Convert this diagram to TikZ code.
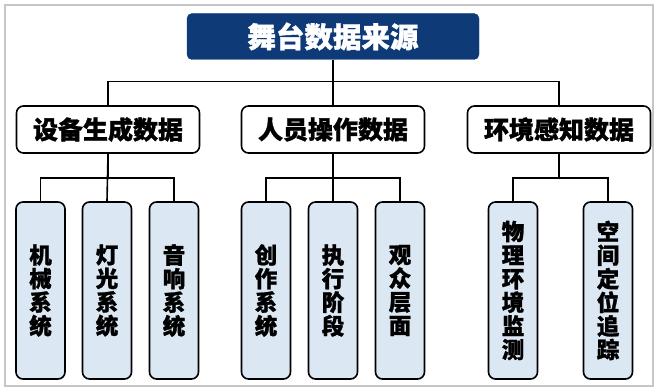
\documentclass[tikz,border=0pt]{standalone}
\usepackage{fontspec}
\setmainfont{Noto Sans CJK SC}[BoldFeatures={FakeBold=1.2}]
\definecolor{navy}{HTML}{0E3B78}
\definecolor{leafblue}{HTML}{DCE7F4}
\begin{document}
\begin{tikzpicture}[
  x=1pt, y=-1pt,
  root/.style={draw=navy, fill=navy, rounded corners=5pt, minimum width=292pt, minimum height=46pt,
               text=white, font=\fontsize{28.5}{30}\selectfont\bfseries},
  cat/.style={draw, line width=1.6pt, rounded corners=7pt, fill=white, minimum width=183pt,
              minimum height=47pt, font=\fontsize{25}{27}\selectfont\bfseries},
  leaf/.style={draw, line width=1.6pt, rounded corners=7pt, fill=leafblue, minimum width=49pt,
               minimum height=177pt, align=center, inner sep=0pt, font=\fontsize{22.5}{23.6}\selectfont\bfseries},
  link/.style={line width=1.6pt}
]
  \useasboundingbox (0,0) rectangle (657,390);
  \draw[gray!45, line width=1.2pt] (5,5) rectangle (653,386);

  %-- Racine
  \node[root] (src) at (333, 36.5)  {舞台数据来源};

  %-- Catégories
  \node[cat]  (dev) at (108, 129.5) {设备生成数据};
  \node[cat]  (ops) at (333, 129.5) {人员操作数据};
  \node[cat]  (env) at (559, 129.5) {环境感知数据};

  %-- Feuilles
  \node[leaf] (mech)  at (40.5, 290.5) {机\\械\\系\\统};
  \node[leaf] (light) at (107,  290.5) {灯\\光\\系\\统};
  \node[leaf] (sound) at (174,  290.5) {音\\响\\系\\统};
  \node[leaf] (crea)  at (266,  290.5) {创\\作\\系\\统};
  \node[leaf] (exec)  at (333,  290.5) {执\\行\\阶\\段};
  \node[leaf] (aud)   at (400,  290.5) {观\\众\\层\\面};
  \node[leaf] (phys)  at (513,  290.5) {物\\理\\环\\境\\监\\测};
  \node[leaf] (space) at (608,  290.5) {空\\间\\定\\位\\追\\踪};

  %-- Liaisons
  \draw[link] (src.south) -- ++(0,22) -| (dev.north);
  \draw[link] (src.south) -- (ops.north);
  \draw[link] (src.south) -- ++(0,22) -| (env.north);
  \draw[link] (dev.south) -- ++(0,24) -| (mech.north);
  \draw[link] (dev.south) -- (light.north);
  \draw[link] (dev.south) -- ++(0,24) -| (sound.north);
  \draw[link] (ops.south) -- ++(0,24) -| (crea.north);
  \draw[link] (ops.south) -- (exec.north);
  \draw[link] (ops.south) -- ++(0,24) -| (aud.north);
  \draw[link] (env.south) -- ++(0,24) -| (phys.north);
  \draw[link] (env.south) -- ++(0,24) -| (space.north);
\end{tikzpicture}
\end{document}
